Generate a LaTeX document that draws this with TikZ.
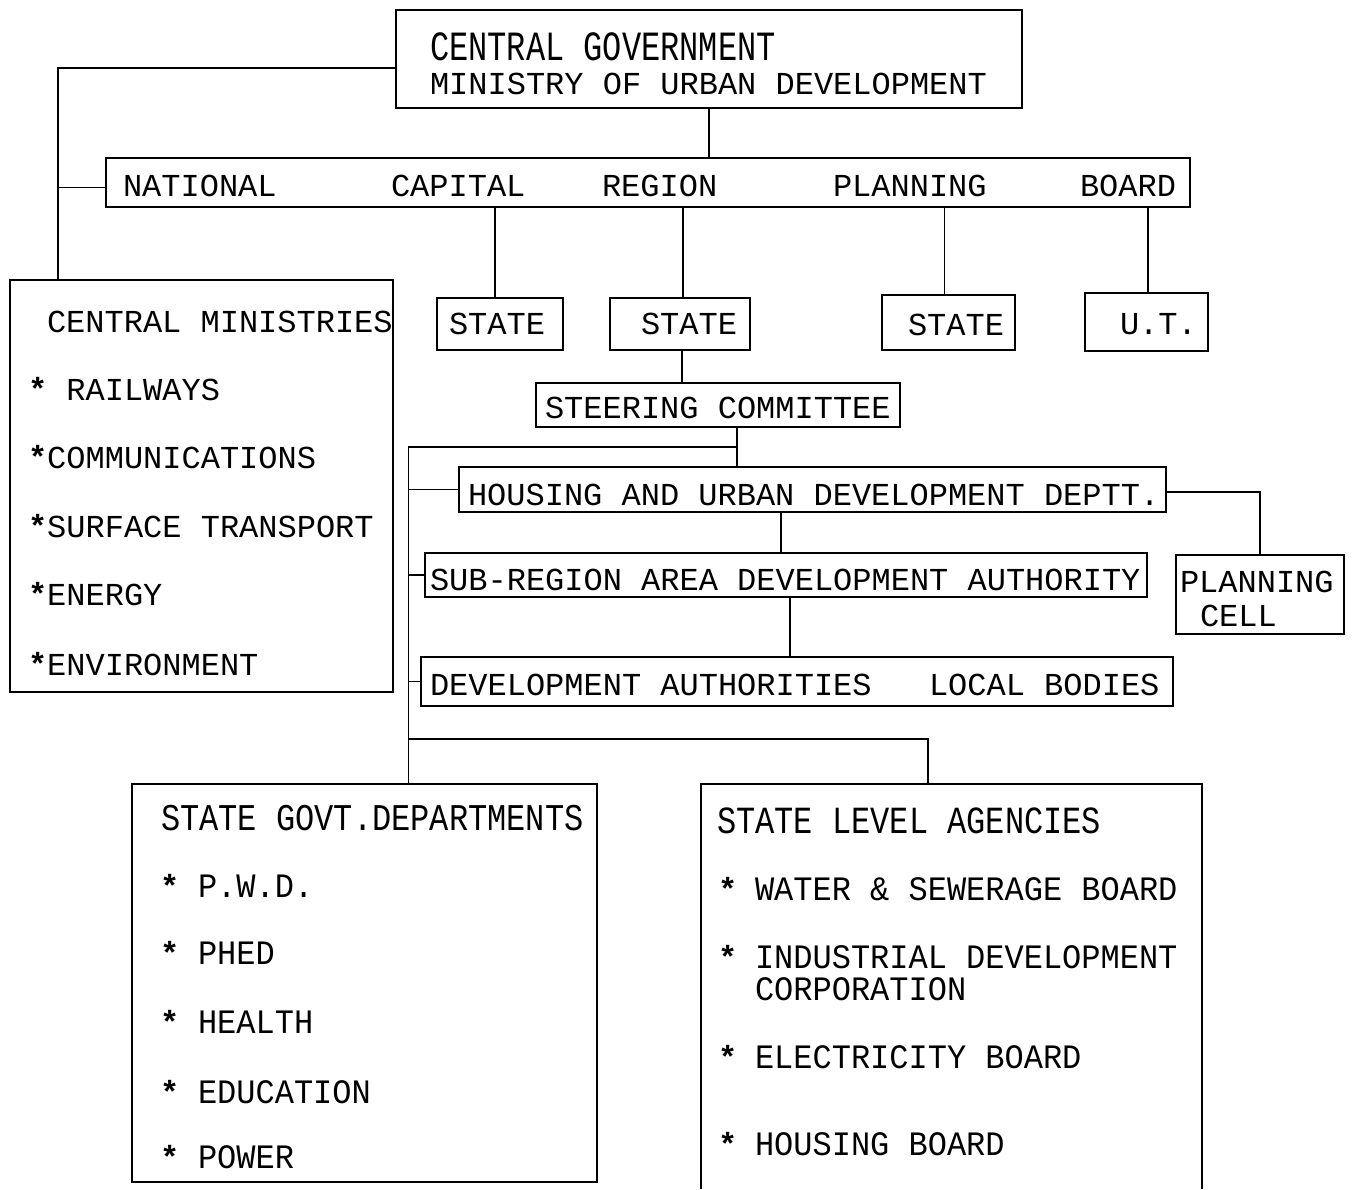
\documentclass[tikz,border=0pt]{standalone}
\usepackage{fontspec}
\usepackage{graphicx}
\newfontfamily\tw{Liberation Mono}
\usetikzlibrary{calc}
\newcommand\mkbox[6][]{\node[box,#1,minimum width={(#5-#3)*0.5pt},minimum height={(#6-#4)*0.5pt}] (#2) at ({(#3+#5)/2},{(#4+#6)/2}) {};}
\newcommand\vs[2]{\scalebox{1}[#1]{#2}}
\newcommand\st{\textbf{*}}
\begin{document}
\begin{tikzpicture}[x=0.5pt,y=-0.5pt,
  box/.style={draw,line width=1.1pt,inner sep=0pt,outer sep=0pt},
  lbl/.style={anchor=base west,inner sep=0pt,outer sep=0pt,font=\tw\fontsize{16}{19}\selectfont},
  conn/.style={line width=0.8pt}]
\useasboundingbox[fill=white] (0,0) rectangle (1352,1189);
% boxes
\mkbox{cg}{396}{10}{1022}{108}
\mkbox{ncr}{106}{158}{1190}{207}
\mkbox{st1}{437}{298}{563}{350}
\mkbox{st2}{610}{298}{750}{350}
\mkbox{st3}{882}{295}{1015}{350}
\mkbox{ut}{1085}{293}{1208}{351}
\mkbox[line width=1.4pt]{cm}{10}{280}{393}{692}
\mkbox{sc}{536}{383}{900}{427}
\mkbox{hud}{459}{467}{1166}{512}
\mkbox{srada}{425}{553}{1147}{597}
\mkbox{pc}{1176}{555}{1344}{634}
\mkbox{da}{421}{657}{1173}{706}
\mkbox{sgd}{132}{784}{597}{1182}
\mkbox[draw=none]{sla}{701}{784}{1202}{1189}
\draw[line width=1.1pt] (sla.south west) -- (sla.north west) -- (sla.north east) -- (sla.south east);
% texts
\node[lbl] (tcg1) at (430,60) {\vs{1.3}{CENTRAL GOVERNMENT}};
\node[lbl] (tcg2) at (430,94) {MINISTRY OF URBAN DEVELOPMENT};
\node[lbl] (tn1) at (123,196) {NATIONAL};
\node[lbl] (tn2) at (391,196) {CAPITAL};
\node[lbl] (tn3) at (602,196) {REGION};
\node[lbl] (tn4) at (833,196) {PLANNING};
\node[lbl] (tn5) at (1080,196) {BOARD};
\node[lbl] (ts1) at (449,334) {STATE};
\node[lbl] (ts2) at (641,334) {STATE};
\node[lbl] (ts3) at (908,335) {STATE};
\node[lbl] (tut) at (1120,334) {U.T.};
\node[lbl] (tcm) at (47,332) {CENTRAL MINISTRIES};
\node[lbl] (tcm1) at (28,400) {\st{} RAILWAYS};
\node[lbl] (tcm2) at (28,468) {\st COMMUNICATIONS};
\node[lbl] (tcm3) at (28,537) {\st SURFACE TRANSPORT};
\node[lbl] (tcm4) at (28,605) {\st ENERGY};
\node[lbl] (tcm5) at (28,675) {\st ENVIRONMENT};
\node[lbl] (tsc) at (545,418) {STEERING COMMITTEE};
\node[lbl] (thud) at (468,505) {HOUSING AND URBAN DEVELOPMENT DEPTT.};
\node[lbl] (tsr) at (430,590) {SUB-REGION AREA DEVELOPMENT AUTHORITY};
\node[lbl] (tpc1) at (1180,592) {PLANNING};
\node[lbl] (tpc2) at (1200,626) {CELL};
\node[lbl] (tda1) at (430,695) {DEVELOPMENT AUTHORITIES};
\node[lbl] (tda2) at (929,695) {LOCAL BODIES};
\node[lbl] (tsgd) at (161,830) {\vs{1.18}{STATE GOVT.DEPARTMENTS}};
\foreach \nm/\yy/\tt in {g1/897/P.W.D.,g2/964/PHED,g3/1033/HEALTH,g4/1103/EDUCATION,g5/1168/POWER}{
  \node[lbl] (s\nm) at (160,\yy) {\st};
  \node[lbl] (t\nm) at (198,\yy) {\vs{1.07}{\tt}};
}
\node[lbl] (tsla) at (717,833) {\vs{1.2}{STATE LEVEL AGENCIES}};
\foreach \nm/\yy/\tt in {a1/900/WATER \& SEWERAGE BOARD,a2/968/INDUSTRIAL DEVELOPMENT,a4/1068/ELECTRICITY BOARD,a5/1155/HOUSING BOARD}{
  \node[lbl] (s\nm) at (718,\yy) {\st};
  \node[lbl] (t\nm) at (755,\yy) {\vs{1.07}{\tt}};
}
\node[lbl] (ta3) at (755,1000) {\vs{1.07}{CORPORATION}};
% connectors
\coordinate (sp1) at ([xshift=24pt]cm.north west);
\draw[conn] ([yshift=-4.5pt]cg.west) -| (sp1);
\draw[conn] ([yshift=-2.5pt]ncr.west) -- ([yshift=-2.5pt]ncr.west -| sp1);
\draw[conn] (cg.south) -- (cg.south |- ncr.north);
\coordinate (c1) at ([xshift=-2.5pt]st1.north);
\coordinate (c2) at ([xshift=1.5pt]st2.north);
\coordinate (c3) at ([xshift=-2pt]st3.north);
\coordinate (c4) at ([xshift=0.75pt]ut.north);
\foreach \b in {c1,c2,c3,c4}{\draw[conn] (\b) -- (\b |- ncr.south);}
\coordinate (c5) at ([xshift=1pt]st2.south);
\draw[conn] (c5) -- (c5 |- sc.north);
\coordinate (scb) at ([xshift=9.5pt]sc.south);
\draw[conn] (scb) -- (scb |- hud.north);
\coordinate (m1) at ($(scb)!0.5!(scb |- hud.north)$);
\coordinate (sp2) at ([xshift=22pt]sgd.north);
\draw[conn] (m1) -| (sp2);
\foreach \b in {hud,srada,da}{\draw[conn] (\b.west) -- (\b.west -| sp2);}
\coordinate (j3) at (409,739);
\coordinate (slat) at ([xshift=-11.75pt]sla.north);
\draw[conn] (j3) -| (slat);
\draw[conn] ([yshift=-1.25pt]hud.east) -| (pc.north);
\coordinate (c6) at ([xshift=-2.5pt]srada.north);
\draw[conn] (c6) -- (c6 |- hud.south);
\coordinate (c7) at ([xshift=2pt]srada.south);
\draw[conn] (c7) -- (c7 |- da.north);
\end{tikzpicture}
\end{document}
